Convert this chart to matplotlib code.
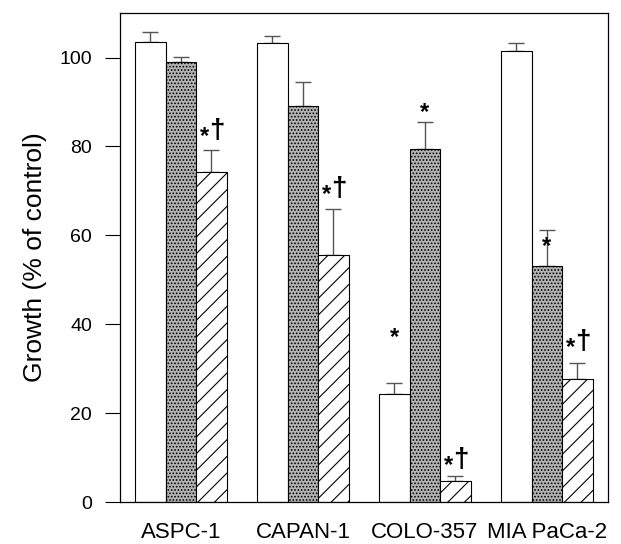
import matplotlib

matplotlib.use("Agg")
import matplotlib.pyplot as plt
import numpy as np

cell_lines = ["ASPC-1", "CAPAN-1", "COLO-357", "MIA PaCa-2"]

# three treatments per cell line: open, stippled, hatched
open_vals = [103.4, 103.2, 24.3, 101.5]
open_err = [2.3, 1.6, 2.5, 1.8]
stip_vals = [98.9, 89.2, 79.4, 53.0]
stip_err = [1.3, 5.4, 6.0, 8.2]
hatch_vals = [74.2, 55.5, 4.8, 27.8]
hatch_err = [5.1, 10.5, 1.0, 3.5]

# significance marks: (group, series index, y, text)
marks = [
    (0, 2, 83.5, "*†"),
    (1, 2, 70.5, "*†"),
    (2, 0, 38.0, "*"),
    (2, 1, 88.5, "*"),
    (2, 2, 9.5, "*†"),
    (3, 1, 58.5, "*"),
    (3, 2, 36.0, "*†"),
]

plt.rcParams["font.family"] = ["Liberation Sans", "DejaVu Sans"]
plt.rcParams["hatch.linewidth"] = 0.8

fig = plt.figure(figsize=(6.21, 5.44), dpi=100)
ax = fig.add_axes([0.193, 0.077, 0.786, 0.899])

x = np.arange(len(cell_lines))
w = 0.25
series = [
    (open_vals, open_err, dict(color="white", hatch=None)),
    (stip_vals, stip_err, dict(color="#b4b4b4", hatch=".....")),
    (hatch_vals, hatch_err, dict(color="white", hatch="//")),
]
for i, (vals, err, style) in enumerate(series):
    pos = x + (i - 1) * w
    ax.bar(pos, vals, width=w, facecolor=style["color"], edgecolor="black",
           hatch=style["hatch"], linewidth=0.8, zorder=2)
    ax.errorbar(pos, vals, yerr=[np.zeros(len(vals)), err], fmt="none",
                ecolor="#555555", elinewidth=1.0, capsize=6, capthick=1.0,
                zorder=1)

for g, s, y, txt in marks:
    bx = x[g] + (s - 1) * w
    if txt == "*":
        ax.annotate("*", (bx, y), ha="center", va="center", fontsize=17,
                    fontweight="bold", textcoords="offset points",
                    xytext=(0, -3))
    else:
        ax.annotate("*", (bx, y), ha="center", va="center", fontsize=17,
                    fontweight="bold", textcoords="offset points",
                    xytext=(-5, -4))
        ax.annotate("†", (bx, y), ha="center", va="center", fontsize=20,
                    fontweight="bold", textcoords="offset points",
                    xytext=(4, 0))

ax.set_xlim(-0.5, 3.5)
ax.set_ylim(0, 110)
ax.set_yticks([0, 20, 40, 60, 80, 100])
ax.tick_params(axis="y", direction="out", length=11, width=0.8,
               labelsize=14, pad=9)
ax.set_xticks(x)
ax.set_xticklabels(cell_lines, fontsize=16)
ax.tick_params(axis="x", length=0, pad=14)
ax.set_ylabel("Growth (% of control)", fontsize=19, labelpad=9)
for sp in ax.spines.values():
    sp.set_linewidth(0.9)

fig.savefig("out.png", dpi=100)
